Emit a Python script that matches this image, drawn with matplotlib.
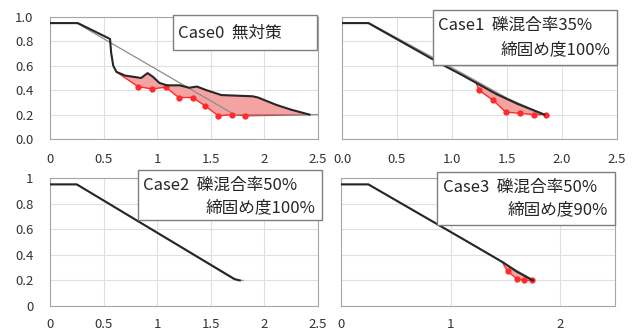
import numpy as np
import matplotlib.pyplot as plt
from matplotlib.patches import Rectangle

plt.rcParams['font.family'] = ['Noto Sans CJK JP', 'DejaVu Sans']

# Case0 無対策
c0_x = [0, 0.26, 0.56, 0.57, 0.59, 0.62, 0.70, 0.85, 0.91, 0.96, 1.02, 1.09, 1.21, 1.30, 1.37, 1.46, 1.60, 1.89, 1.94, 2.11, 2.25, 2.42]
c0_y = [0.95, 0.95, 0.82, 0.71, 0.60, 0.55, 0.52, 0.50, 0.54, 0.51, 0.46, 0.44, 0.44, 0.42, 0.43, 0.40, 0.36, 0.35, 0.34, 0.28, 0.24, 0.20]
r0_x = [0.62, 0.82, 0.95, 1.08, 1.20, 1.33, 1.45, 1.57, 1.70, 1.82, 2.42]
r0_y = [0.55, 0.43, 0.41, 0.425, 0.34, 0.34, 0.27, 0.19, 0.20, 0.19, 0.20]
m0_x = [0.82, 0.95, 1.08, 1.20, 1.33, 1.45, 1.57, 1.70, 1.82]
m0_y = [0.43, 0.41, 0.425, 0.34, 0.34, 0.27, 0.19, 0.20, 0.19]
g0_x = [0, 0.25, 1.72, 2.5]
g0_y = [0.95, 0.95, 0.20, 0.20]

# Case1
c1_x = [0, 0.24, 0.89, 1.10, 1.26, 1.40, 1.59, 1.70, 1.84]
c1_y = [0.95, 0.95, 0.62, 0.52, 0.44, 0.37, 0.29, 0.25, 0.20]
r1_x = [1.22, 1.245, 1.37, 1.49, 1.62, 1.745, 1.85]
r1_y = [0.46, 0.40, 0.32, 0.22, 0.21, 0.20, 0.20]
m1_x = [1.245, 1.37, 1.49, 1.62, 1.745, 1.85]
m1_y = [0.40, 0.32, 0.22, 0.21, 0.20, 0.20]
g1_x = [0, 0.25, 1.10, 1.50, 1.84]
g1_y = [0.95, 0.95, 0.535, 0.335, 0.20]

# Case2
c2_x = [0, 0.25, 1.72, 1.77]
c2_y = [0.95, 0.95, 0.21, 0.20]
g2_x = [0, 0.25, 1.75, 1.80]
g2_y = [0.95, 0.95, 0.20, 0.20]

# Case3
c3_x = [0, 0.25, 1.18, 1.48, 1.60, 1.75]
c3_y = [0.95, 0.95, 0.49, 0.34, 0.27, 0.20]
r3_x = [1.47, 1.52, 1.61, 1.67, 1.74]
r3_y = [0.345, 0.27, 0.21, 0.20, 0.20]
m3_x = [1.52, 1.61, 1.67, 1.74]
m3_y = [0.27, 0.21, 0.20, 0.20]
g3_x = [0, 0.25, 1.76]
g3_y = [0.95, 0.95, 0.20]

W, H = 640, 331
fig = plt.figure(figsize=(6.4, 3.31), dpi=100)


def add_ax(l, r, t, b):
    return fig.add_axes([l / W, 1 - b / H, (r - l) / W, (b - t) / H])


ax0 = add_ax(50, 318, 17, 139)
ax1 = add_ax(342, 617, 17, 139)
ax2 = add_ax(50, 318, 178, 306)
ax3 = add_ax(341, 615, 178, 306)


def style(ax, xticks, xlabels, yticks, ylabels, xpad, ypad=12):
    ax.set_xlim(0, 2.5)
    ax.set_ylim(0, 1.0)
    ax.set_xticks(xticks)
    ax.set_xticklabels(xlabels)
    ax.set_yticks(yticks)
    ax.set_yticklabels(ylabels)
    ax.tick_params(length=0, labelsize=9.5, labelcolor='#333333')
    ax.tick_params(axis='x', pad=xpad)
    ax.tick_params(axis='y', pad=ypad)
    ax.grid(True, color='#e0e0e0', lw=0.8)
    ax.set_axisbelow(True)
    for s in ax.spines.values():
        s.set_color('#a6a6a6')
        s.set_linewidth(0.8)


def draw(ax, cx, cy, gx, gy, rx=None, ry=None, mx=None, my=None):
    if rx is not None:
        cx_a = np.array(cx)
        m = (cx_a >= rx[0]) & (cx_a <= rx[-1])
        px = np.concatenate([[rx[0]], cx_a[m], [cx[-1]], rx[::-1]])
        py = np.concatenate([[ry[0]], np.array(cy)[m], [cy[-1]], ry[::-1]])
        ax.fill(px, py, color='#f4a3a3', lw=0, zorder=2)
        ax.plot(rx, ry, color='#ff2a2a', lw=1.0, zorder=3)
        ax.plot(mx, my, 'o', color='#ff2a2a', ms=3.5, zorder=4, ls='none')
    ax.plot(gx, gy, color='#8c8c8c', lw=0.9, zorder=3)
    ax.plot(cx, cy, color='#262626', lw=1.5, zorder=5)


draw(ax0, c0_x, c0_y, g0_x, g0_y, r0_x, r0_y, m0_x, m0_y)
draw(ax1, c1_x, c1_y, g1_x, g1_y, r1_x, r1_y, m1_x, m1_y)
draw(ax2, c2_x, c2_y, g2_x, g2_y)
draw(ax3, c3_x, c3_y, g3_x, g3_y, r3_x, r3_y, m3_x, m3_y)

yt = [0, 0.2, 0.4, 0.6, 0.8, 1.0]
xt = [0, 0.5, 1.0, 1.5, 2.0, 2.5]
style(ax0, xt, ['0', '0.5', '1', '1.5', '2', '2.5'], yt,
      ['0.0', '0.2', '0.4', '0.6', '0.8', '1.0'], xpad=10)
style(ax1, xt, ['0.0', '0.5', '1.0', '1.5', '2.0', '2.5'], yt, [], xpad=10)
style(ax2, xt, ['0', '0.5', '1', '1.5', '2', '2.5'], yt,
      ['0', '0.2', '0.4', '0.6', '0.8', '1'], xpad=9)
style(ax3, [0, 1, 2], ['0', '1', '2'], yt, [], xpad=9)


def label_box(l, r, t, b, lines):
    fig.add_artist(Rectangle((l / W, 1 - b / H), (r - l) / W, (b - t) / H,
                             transform=fig.transFigure, facecolor='white',
                             edgecolor='#7f7f7f', lw=1.0, zorder=10))
    for (x, y, s, ha) in lines:
        fig.text(x / W, 1 - y / H, s, ha=ha, va='center', fontsize=12,
                 color='#262626', zorder=11)


label_box(173, 317, 15, 50, [(178, 33, 'Case0  無対策', 'left')])
label_box(433, 617, 10, 65, [(438, 25, 'Case1  礫混合率35%', 'left'),
                             (610, 50, '締固め度100%', 'right')])
label_box(138, 322, 170, 220, [(143, 185, 'Case2  礫混合率50%', 'left'),
                               (315, 208, '締固め度100%', 'right')])
label_box(437, 615, 172, 225, [(443, 187, 'Case3  礫混合率50%', 'left'),
                               (608, 210, '締固め度90%', 'right')])

fig.savefig('out.png', dpi=100)
